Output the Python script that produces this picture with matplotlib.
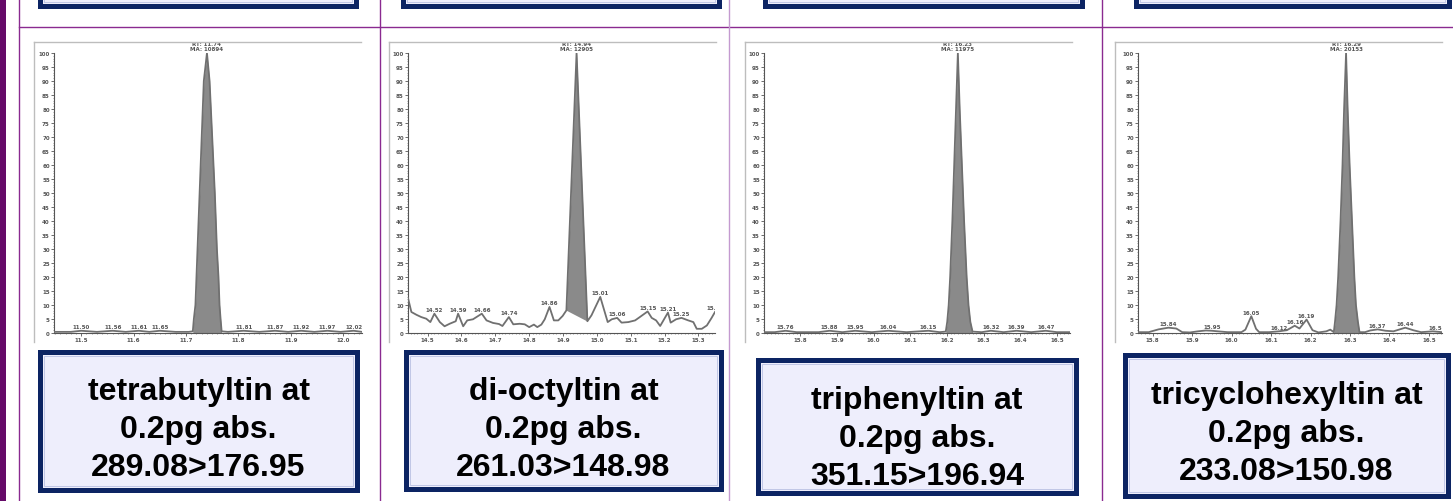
import matplotlib.pyplot as plt
from matplotlib.patches import Rectangle
from matplotlib.lines import Line2D
from matplotlib.ticker import MultipleLocator, FormatStrFormatter

W, H = 1453, 502

# --- tetrabutyltin trace (RT min, relative abundance %) ---
tbt_rt = [11.448, 11.48, 11.50, 11.53, 11.56, 11.585, 11.61, 11.63, 11.65, 11.68, 11.705,
          11.713, 11.715, 11.718, 11.720, 11.722, 11.726, 11.730, 11.734, 11.740,
          11.745, 11.750, 11.755, 11.759, 11.762, 11.764, 11.766, 11.768,
          11.78, 11.81, 11.84, 11.87, 11.895, 11.92, 11.945, 11.97, 11.995, 12.02, 12.036]
tbt_ab = [0.4, 0.4, 0.8, 0.4, 0.8, 0.4, 0.8, 0.4, 0.8, 0.4, 0.4,
          0.6, 5, 10, 20, 30, 50, 70, 90, 100,
          90, 70, 50, 30, 20, 10, 5, 0.6,
          0.4, 0.8, 0.4, 0.8, 0.4, 0.8, 0.4, 0.8, 0.4, 0.8, 0.4]
tbt_labels = [11.50, 11.56, 11.61, 11.65, 11.81, 11.87, 11.92, 11.97, 12.02]

# --- di-octyltin trace ---
dot_rt = [14.442, 14.452, 14.467, 14.481, 14.496, 14.508, 14.520, 14.536, 14.550, 14.565,
          14.583, 14.590, 14.605, 14.617, 14.634, 14.660, 14.674, 14.693, 14.711, 14.721,
          14.740, 14.753, 14.772, 14.787, 14.800, 14.814, 14.824, 14.836, 14.846, 14.860,
          14.873, 14.886, 14.899, 14.910, 14.940, 14.972, 14.984, 15.010, 15.032, 15.044,
          15.060, 15.073, 15.093, 15.113, 15.127, 15.150, 15.162, 15.175, 15.187, 15.210,
          15.218, 15.234, 15.250, 15.270, 15.285, 15.295, 15.310, 15.325, 15.339, 15.349]
dot_ab = [12.5, 7.5, 6.5, 5.7, 5.1, 3.9, 6.9, 3.9, 2.4, 3.3,
          4.2, 6.9, 2.4, 4.5, 4.9, 6.9, 4.5, 3.6, 3.2, 2.5,
          5.7, 3.1, 3.3, 3.1, 2.1, 3.0, 2.1, 3.0, 4.9, 9.3,
          4.5, 4.5, 6.1, 8.1, 100, 4.2, 6.3, 12.9, 3.9, 4.9,
          5.4, 3.7, 3.9, 4.5, 5.7, 7.7, 5.4, 4.5, 2.5, 7.3,
          3.7, 4.9, 5.4, 4.5, 3.9, 1.5, 1.5, 2.7, 5.4, 7.5]
dot_labels = [14.52, 14.59, 14.66, 14.74, 14.86, 15.01, 15.06, 15.15, 15.21, 15.25, 15.35]

# --- triphenyltin trace ---
tph_rt = [15.701, 15.73, 15.76, 15.79, 15.82, 15.85, 15.88, 15.915, 15.95, 15.995, 16.04,
          16.09, 16.15, 16.18, 16.197, 16.201, 16.205, 16.209, 16.215, 16.220, 16.225,
          16.230, 16.235, 16.241, 16.247, 16.254, 16.259, 16.264, 16.270,
          16.295, 16.32, 16.355, 16.39, 16.43, 16.47, 16.50, 16.536]
tph_ab = [0.3, 0.3, 0.8, 0.3, 0.3, 0.3, 0.8, 0.3, 0.8, 0.3, 0.8,
          0.3, 0.8, 0.3, 0.5, 4, 10, 20, 40, 60, 80,
          100, 80, 60, 40, 20, 10, 4, 0.5,
          0.3, 0.8, 0.3, 0.8, 0.3, 0.8, 0.3, 0.3]
tph_labels = [15.76, 15.88, 15.95, 16.04, 16.15, 16.32, 16.39, 16.47]

# --- tricyclohexyltin trace ---
tch_rt = [15.763, 15.79, 15.815, 15.84, 15.86, 15.875, 15.895, 15.915, 15.935, 15.95,
          15.965, 15.99, 16.025, 16.035, 16.05, 16.062, 16.07, 16.095, 16.12, 16.14,
          16.16, 16.172, 16.19, 16.205, 16.22, 16.24, 16.250, 16.259,
          16.262, 16.266, 16.270, 16.276, 16.281, 16.285, 16.290, 16.294, 16.299,
          16.305, 16.311, 16.315, 16.320, 16.324,
          16.338, 16.351, 16.37, 16.39, 16.41, 16.44, 16.46, 16.48, 16.51, 16.533]
tch_ab = [0.3, 0.3, 1.3, 1.9, 1.6, 0.3, 0.2, 0.6, 0.9, 0.8,
          0.6, 0.3, 0.3, 1.2, 6.0, 1.5, 0.3, 0.3, 0.6, 1.0,
          2.6, 1.6, 4.8, 1.0, 0.2, 0.6, 1.2, 0.3,
          4, 10, 20, 40, 60, 80, 100, 80, 60,
          40, 20, 10, 4, 0.3,
          0.3, 0.9, 1.3, 0.8, 0.6, 1.9, 1.0, 0.3, 0.6, 0.3]
tch_labels = [15.84, 15.95, 16.05, 16.12, 16.16, 16.19, 16.37, 16.44, 16.52]

apex_rt = [11.74, 14.94, 16.23, 16.29]
apex_ma = [10894, 12905, 11975, 20153]
peak_span = [(11.713, 11.768), (14.910, 14.972), (16.197, 16.270), (16.259, 16.324)]

names = ["tetrabutyltin", "di-octyltin", "triphenyltin", "tricyclohexyltin"]
transitions = ["289.08>176.95", "261.03>148.98", "351.15>196.94", "233.08>150.98"]

traces = [(tbt_rt, tbt_ab, tbt_labels), (dot_rt, dot_ab, dot_labels),
          (tph_rt, tph_ab, tph_labels), (tch_rt, tch_ab, tch_labels)]

# layout in pixels
axes_px = [(54, 362, 11.448, 12.036), (408, 715, 14.442, 15.349),
           (764, 1070, 15.701, 16.536), (1138, 1442, 15.763, 16.533)]
frame_px = [(34, 361), (389, 716), (745, 1072), (1115, 1442)]
box_px = [(40, 357, 353, 491), (406, 721, 353, 490),
          (758, 1076, 361, 494), (1125, 1448, 356, 497)]
text_y = [430, 430, 439, 434]
top_box_px = [(40, 356), (403, 719), (765, 1082), (1136, 1449)]

fig = plt.figure(figsize=(W / 100, H / 100), dpi=100)
fig.patch.set_facecolor("white")


def fx(x):
    return x / W


def fy(y):
    return 1 - y / H


def fig_line(x0, y0, x1, y1, **kw):
    fig.add_artist(Line2D([fx(x0), fx(x1)], [fy(y0), fy(y1)], transform=fig.transFigure, **kw))


def fig_rect(x0, x1, y0, y1, **kw):
    fig.add_artist(Rectangle((fx(x0), fy(y1)), fx(x1) - fx(x0), fy(y0) - fy(y1),
                             transform=fig.transFigure, **kw))


# slide grid
fig_rect(0, 6, -5, H + 5, facecolor="#650a68", edgecolor="none")
fig_line(19, 0, 19, H, color="#8a2a90", lw=1.0)
fig_line(19, 28, W, 28, color="#8a2a90", lw=1.0)
fig_line(380, 0, 380, H, color="#8a2a90", lw=1.0)
fig_line(729, 0, 729, H, color="#c49ad0", lw=1.0)
fig_line(1102, 0, 1102, H, color="#8a2a90", lw=1.0)

navy = "#0c2463"
fill = "#eeeefc"

# label boxes of the row above
for x0, x1 in top_box_px:
    fig_rect(x0, x1, -40, 7, facecolor=fill, edgecolor=navy, lw=3.6)
    fig_rect(x0 + 4, x1 - 4, -40, 3, facecolor="none", edgecolor="#b9c0e2", lw=0.6)

for i in range(4):
    rt, ab, labels = traces[i]
    x0, x1, lo, hi = axes_px[i]

    # chromatogram frame
    l, r = frame_px[i]
    fig_line(l, 43, r, 43, color="#bdbdbd", lw=1.0)
    fig_line(l, 43, l, 343, color="#bdbdbd", lw=1.0)

    ax = fig.add_axes([fx(x0), fy(334), fx(x1) - fx(x0), fy(54) - fy(334)])
    ax.set_xlim(lo, hi)
    ax.set_ylim(0, 100)
    ax.plot(rt, ab, color="#707070", lw=1.3, zorder=3)

    s0, s1 = peak_span[i]
    px = [x for x in rt if s0 <= x <= s1]
    py = [y for x, y in zip(rt, ab) if s0 <= x <= s1]
    if i == 1:
        # area under the peak down to the line joining its two feet
        b0, b1 = py[0], py[-1]
        base = [b0 + (b1 - b0) * (x - px[0]) / (px[-1] - px[0]) for x in px]
    else:
        base = [0] * len(px)
    ax.fill_between(px, base, py, color="#8a8a8a", lw=0, zorder=2)

    for lab in labels:
        near = min(range(len(rt)), key=lambda k: abs(rt[k] - lab))
        ax.text(lab, ab[near] + 0.6, f"{lab:.2f}", ha="center", va="bottom",
                fontsize=4, fontweight="bold", color="#555555", clip_on=True)

    ax.text(apex_rt[i], 100.6, f"RT: {apex_rt[i]:.2f}\nMA: {apex_ma[i]}", ha="center",
            va="bottom", fontsize=4, fontweight="bold", color="#555555",
            linespacing=1.0, clip_on=False)

    for side in ("top", "right"):
        ax.spines[side].set_visible(False)
    for side in ("left", "bottom"):
        ax.spines[side].set_color("#555555")
        ax.spines[side].set_linewidth(0.8)
    ax.yaxis.set_major_locator(MultipleLocator(5))
    ax.yaxis.set_minor_locator(MultipleLocator(1))
    ax.xaxis.set_major_locator(MultipleLocator(0.1))
    ax.xaxis.set_minor_locator(MultipleLocator(0.01))
    ax.xaxis.set_major_formatter(FormatStrFormatter("%.1f"))
    ax.tick_params(which="major", length=2.0, width=0.6, color="#555555", pad=1,
                   labelsize=4, labelcolor="#555555")
    ax.tick_params(which="minor", length=1.0, width=0.4, color="#555555")
    for t in ax.get_xticklabels() + ax.get_yticklabels():
        t.set_fontweight("bold")
    ax.set_facecolor("none")

    # caption box
    b0, b1, t0, t1 = box_px[i]
    fig_rect(b0, b1, t0, t1, facecolor=fill, edgecolor=navy, lw=3.6)
    fig_rect(b0 + 4, b1 - 4, t0 + 4, t1 - 4, facecolor="none", edgecolor="#b9c0e2", lw=0.6)
    fig.text(fx((b0 + b1) / 2), fy(text_y[i]),
             f"{names[i]} at\n0.2pg abs.\n{transitions[i]}",
             ha="center", va="center", fontsize=23, fontweight="bold",
             family="Liberation Sans", linespacing=1.35, color="black")

fig.savefig("out.png", dpi=100)
